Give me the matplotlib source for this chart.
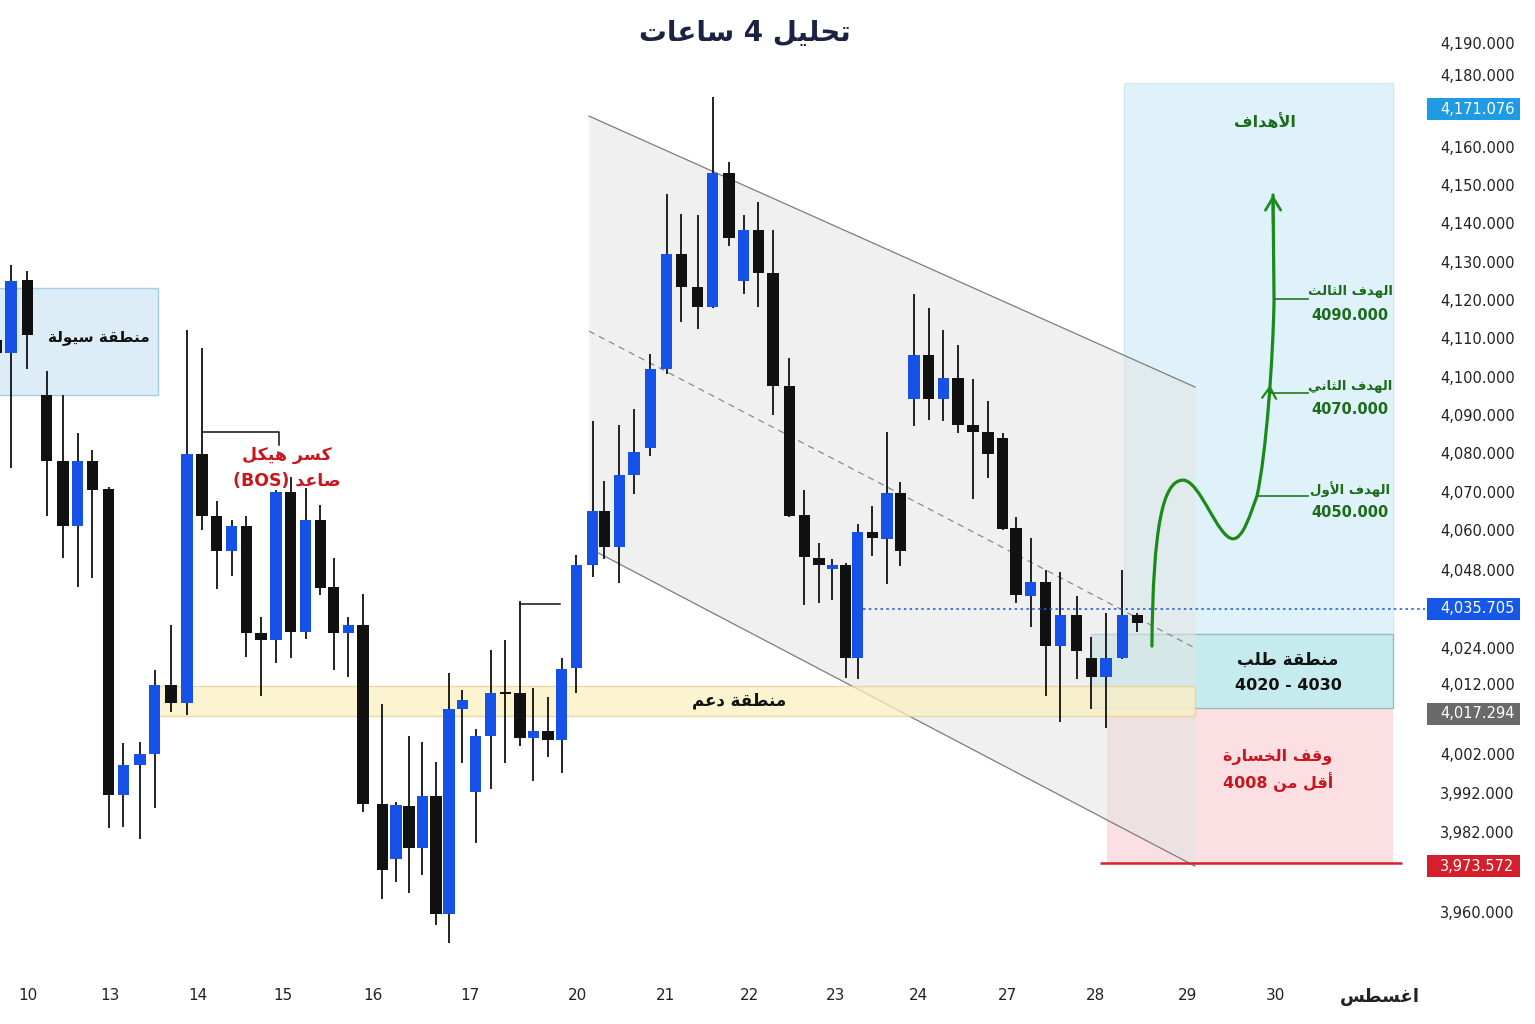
import matplotlib
matplotlib.use("Agg")
import matplotlib.pyplot as plt
from matplotlib.patches import Rectangle, PathPatch
from matplotlib.path import Path
from matplotlib.transforms import blended_transform_factory

plt.rcParams['font.family'] = ['DejaVu Sans']
AR_FONT = ['DejaVu Sans Condensed', 'DejaVu Sans']

# ---- candle data (4h candles, x = candle slot, prices) ----
candle_x = [-1.0, 0.0, 1.1, 2.4, 3.5, 4.5, 5.5, 6.6, 7.6, 8.7, 9.7, 10.8, 11.9, 12.9,
            13.9, 14.9, 15.9, 16.9, 17.9, 18.9, 19.9, 20.9, 21.8, 22.8, 23.8, 25.1,
            26.0, 26.9, 27.8, 28.7, 29.6, 30.5, 31.4, 32.4, 33.4, 34.4, 35.3, 36.3,
            37.2, 38.2, 39.3, 40.1, 41.1, 42.1, 43.2, 44.3, 45.3, 46.4, 47.4, 48.5,
            49.5, 50.5, 51.5, 52.6, 53.6, 54.6, 55.5, 56.4, 57.2, 58.2, 59.2, 60.1,
            61.0, 62.0, 63.0, 64.0, 65.0, 66.0, 67.0, 67.9, 68.9, 69.9, 70.9, 72.0,
            73.0, 74.0, 75.1, 76.1]
opens = [4109.6, 4106.1, 4125.1, 4095.3, 4078.1, 4061.0, 4078.1, 4070.6, 3990.8, 3998.8,
         4001.5, 4019.6, 4014.9, 4079.8, 4063.7, 4054.5, 4061.0, 4033.1, 4031.3, 4069.9,
         4033.4, 4062.6, 4045.1, 4033.1, 4035.2, 3988.5, 3974.2, 3988.0, 3977.0, 3990.6,
         3959.8, 4013.3, 3991.7, 4006.3, 4017.7, 4017.5, 4005.7, 4007.6, 4005.2, 4024.0,
         4050.9, 4065.0, 4055.6, 4074.4, 4081.4, 4102.0, 4132.0, 4123.4, 4118.2, 4153.1,
         4125.0, 4138.3, 4127.1, 4097.6, 4063.9, 4052.7, 4049.8, 4050.9, 4026.6, 4059.5,
         4057.7, 4069.7, 4094.2, 4105.7, 4094.2, 4099.7, 4087.4, 4085.6, 4084.0, 4060.5,
         4042.8, 4046.4, 4029.7, 4037.8, 4026.6, 4021.7, 4026.6, 4037.8]
highs = [4110.9, 4129.1, 4127.6, 4101.6, 4095.1, 4085.3, 4080.9, 4071.1, 4004.3, 4004.7,
         4023.5, 4035.2, 4112.2, 4107.5, 4067.6, 4062.6, 4063.7, 4037.3, 4070.4, 4073.8,
         4071.0, 4066.5, 4052.7, 4037.3, 4043.3, 4014.6, 3989.0, 4006.3, 4004.7, 3999.5,
         4022.7, 4018.3, 4008.1, 4028.7, 4031.3, 4041.5, 4018.8, 4016.4, 4026.6, 4053.5,
         4088.4, 4072.8, 4087.4, 4091.6, 4105.9, 4147.7, 4142.4, 4142.2, 4173.0, 4156.0,
         4142.2, 4145.6, 4138.3, 4104.9, 4070.4, 4056.6, 4052.4, 4051.4, 4061.6, 4066.3,
         4085.6, 4072.5, 4121.6, 4117.9, 4112.2, 4108.3, 4099.4, 4093.7, 4085.3, 4063.4,
         4057.9, 4049.6, 4049.0, 4042.8, 4032.1, 4038.3, 4049.6, 4038.3]
lows = [4104.9, 4076.2, 4102.1, 4063.7, 4052.7, 4045.2, 4047.4, 3982.3, 3982.5, 3979.3,
        3987.5, 4012.5, 4011.7, 4060.0, 4044.6, 4048.0, 4026.9, 4016.7, 4025.3, 4026.6,
        4031.6, 4043.0, 4023.5, 4021.7, 3986.4, 3963.7, 3968.2, 3965.3, 3970.0, 3957.0,
        3952.3, 3999.2, 3978.3, 3992.4, 3999.2, 4003.7, 3994.5, 4000.8, 3996.6, 4017.5,
        4047.7, 4052.4, 4046.2, 4069.4, 4079.3, 4100.7, 4114.3, 4112.4, 4117.9, 4134.1,
        4121.6, 4118.2, 4090.0, 4063.4, 4040.4, 4041.0, 4041.7, 4021.4, 4021.1, 4053.2,
        4045.9, 4050.6, 4087.1, 4088.7, 4088.4, 4085.3, 4068.1, 4073.6, 4060.0, 4041.0,
        4034.7, 4016.7, 4009.9, 4021.1, 4013.3, 4008.3, 4026.3, 4033.4]
closes = [4106.2, 4124.9, 4110.9, 4078.1, 4061.0, 4078.1, 4070.4, 3990.8, 3998.8, 4001.5,
          4019.5, 4014.9, 4079.8, 4063.7, 4054.5, 4061.0, 4033.1, 4031.3, 4069.9, 4033.4,
          4062.6, 4044.9, 4033.1, 4035.2, 3988.5, 3971.3, 3988.3, 3977.0, 3990.6, 3959.8,
          4013.3, 4015.7, 4006.3, 4017.5, 4017.2, 4005.7, 4007.6, 4005.2, 4023.7, 4050.9,
          4065.0, 4055.6, 4074.4, 4080.4, 4102.0, 4132.0, 4123.4, 4118.2, 4153.1, 4136.2,
          4138.3, 4127.1, 4097.6, 4063.7, 4053.0, 4050.9, 4050.9, 4026.6, 4059.5, 4057.9,
          4069.7, 4054.5, 4105.7, 4094.2, 4099.7, 4087.4, 4085.6, 4079.8, 4060.3, 4043.0,
          4046.4, 4029.7, 4037.8, 4028.4, 4021.7, 4026.6, 4037.8, 4035.7]

# ---- axis labels ----
xtick_pos = [1.15, 6.69, 12.64, 18.38, 24.46, 31.01, 38.31, 44.19, 49.93, 55.68,
             61.35, 67.36, 73.31, 79.53, 85.41, 92.5]
xtick_labels = ['10', '13', '14', '15', '16', '17', '20', '21', '22', '23', '24',
                '27', '28', '29', '30', 'اغسطس']
ytick_pos = [4187.1, 4178.7, 4160, 4150, 4140, 4130, 4120, 4110, 4100, 4090, 4080,
             4070, 4060, 4049.6, 4029.2, 4019.8, 4001.6, 3991.4, 3981.2, 3960.3]
ytick_labels = ['4,190.000', '4,180.000', '4,160.000', '4,150.000', '4,140.000',
                '4,130.000', '4,120.000', '4,110.000', '4,100.000', '4,090.000',
                '4,080.000', '4,070.000', '4,060.000', '4,048.000', '4,024.000',
                '4,012.000', '4,002.000', '3,992.000', '3,982.000', '3,960.000']
marker_levels = [4169.8, 4039.4, 4012.0, 3972.3]
marker_texts = ['4,171.076', '4,035.705', '4,017.294', '3,973.572']
marker_colors = ['#1f9be3', '#1557e9', '#6a6a6a', '#d61f2d']

# ---- zones and drawings (x in candle slots, y in price) ----
liquidity_zone = (-2.0, 9.93, 4095.2, 4123.1)
support_zone = (9.53, 80.0, 4011.5, 4019.3)
targets_zone = (75.2, 93.38, 4032.9, 4176.6)
demand_zone = (72.97, 93.38, 4013.6, 4032.9)
stop_zone = (74.05, 93.38, 3973.1, 4013.6)
stop_level = 3973.1
current_level = 4039.4
channel_x = [39.05, 80.0]
channel_top = [4168.0, 4097.3]
channel_bottom = [4055.3, 3972.3]
channel_mid = [4111.9, 4029.2]
bos_level = 4085.6
bos_x = [12.97, 18.11]
bos_drop = 4082.2
bos2_level = 4040.7
bos2_x = [34.39, 37.09]
# projected path: start, then cubic bezier triples, last point is the tip
path_pts = [(77.09, 4029.7),
            (77.16, 4061.0), (77.84, 4073.0), (79.19, 4073.0),
            (80.34, 4073.0), (81.55, 4057.7), (82.57, 4057.7),
            (83.24, 4057.7), (83.72, 4063.9), (84.19, 4068.9),
            (84.80, 4079.6), (85.27, 4104.3), (85.34, 4120.0),
            (85.27, 4147.4)]
target_levels = [4068.9, 4095.7, 4120.3]
target_start = [84.19, 85.07, 85.34]
target_end = 87.64
target_names = ['الهدف الأول', 'الهدف الثاني', 'الهدف الثالث']
target_values = ['4050.000', '4070.000', '4090.000']

# ---- arabic shaping (matplotlib has no text shaping) ----
DUAL = {0x0628: 0xFE8F, 0x062A: 0xFE95, 0x062B: 0xFE99, 0x062C: 0xFE9D, 0x062D: 0xFEA1,
        0x062E: 0xFEA5, 0x0633: 0xFEB1, 0x0634: 0xFEB5, 0x0635: 0xFEB9, 0x0636: 0xFEBD,
        0x0637: 0xFEC1, 0x0638: 0xFEC5, 0x0639: 0xFEC9, 0x063A: 0xFECD, 0x0641: 0xFED1,
        0x0642: 0xFED5, 0x0643: 0xFED9, 0x0644: 0xFEDD, 0x0645: 0xFEE1, 0x0646: 0xFEE5,
        0x0647: 0xFEE9, 0x064A: 0xFEF1}
RIGHT = {0x0622: 0xFE81, 0x0623: 0xFE83, 0x0625: 0xFE87, 0x0627: 0xFE8D, 0x0629: 0xFE93,
         0x062F: 0xFEA9, 0x0630: 0xFEAB, 0x0631: 0xFEAD, 0x0632: 0xFEAF, 0x0648: 0xFEED,
         0x0649: 0xFEEF}
LAM_ALEF = {0x0622: 0xFEF5, 0x0623: 0xFEF7, 0x0625: 0xFEF9, 0x0627: 0xFEFB}


def is_arabic(s):
    return any('\u0600' <= ch <= '\u06FF' for ch in s)


def shape_word(word):
    units = []
    i = 0
    while i < len(word):
        c = ord(word[i])
        if c == 0x0644 and i + 1 < len(word) and ord(word[i + 1]) in LAM_ALEF:
            units.append(('lig', LAM_ALEF[ord(word[i + 1])]))
            i += 2
            continue
        if c in DUAL:
            units.append(('dual', DUAL[c]))
        elif c in RIGHT:
            units.append(('right', RIGHT[c]))
        else:
            units.append(('other', c))
        i += 1
    out = []
    for k, (kind, base) in enumerate(units):
        prev_j = k > 0 and units[k - 1][0] == 'dual'
        next_j = kind == 'dual' and k + 1 < len(units) and units[k + 1][0] != 'other'
        if kind == 'other':
            out.append(chr(base))
        elif kind in ('right', 'lig'):
            out.append(chr(base + (1 if prev_j else 0)))
        else:
            off = 3 if (prev_j and next_j) else 1 if prev_j else 2 if next_j else 0
            out.append(chr(base + off))
    return ''.join(out)


def ar(text):
    if not is_arabic(text):
        return text
    words = []
    for w in reversed(text.split(' ')):
        words.append(shape_word(w)[::-1] if is_arabic(w) else w)
    return ' '.join(words)


# ---- figure ----
W, H = 1535, 1024
fig = plt.figure(figsize=(W / 100, H / 100), dpi=100)
ax = fig.add_axes([0, 1 - 975 / H, 1425 / W, 975 / H])
ax.set_xlim(-0.743, 95.54)
ax.set_ylim(3943.9, 4198.27)
for s in ax.spines.values():
    s.set_visible(False)


def zone(z, fc, ec, zorder, alpha=1.0, lw=1.0):
    x0, x1, y0, y1 = z
    ax.add_patch(Rectangle((x0, y0), x1 - x0, y1 - y0, facecolor=fc, edgecolor=ec,
                           lw=lw, alpha=alpha, zorder=zorder))


def label(x, y, s, size, color, family=AR_FONT):
    ax.text(x, y, ar(s), ha='center', va='center', fontsize=size, fontweight='bold',
            color=color, family=family, zorder=6)


zone(targets_zone, '#dff2fa', '#d2e9f3', 0.5)
zone(stop_zone, '#fbdfe2', 'none', 0.6)
zone(demand_zone, '#c6ebee', '#93bcbe', 0.7)
zone(liquidity_zone, '#dcedf8', '#a6cde4', 0.8)

# channel
ax.fill_between(channel_x, channel_bottom, channel_top, color='#e4e4e4', alpha=0.55,
                lw=0, zorder=1)
ax.plot(channel_x, channel_top, color='#7d7d7d', lw=0.9, zorder=1.2)
ax.plot(channel_x, channel_bottom, color='#7d7d7d', lw=0.9, zorder=1.2)
ax.plot(channel_x, channel_mid, color='#8a8a8a', lw=0.9, ls=(0, (5, 4)), zorder=1.2)

zone(support_zone, '#fbefc2', '#e2d08e', 1.5, alpha=0.75)

# candles
for x, o, h, l, c in zip(candle_x, opens, highs, lows, closes):
    col = '#1652e8' if c >= o else '#111111'
    ax.vlines(x, l, h, color='#111111', lw=1.3, zorder=3)
    ax.bar(x, max(abs(c - o), 0.5), width=0.78, bottom=min(o, c), color=col,
           edgecolor='none', zorder=3.5)

# current price dotted line and stop line
ax.hlines(current_level, 57.57, 95.54, color='#2b5fd9', lw=1.2, ls=(0, (1.5, 2)), zorder=4)
ax.hlines(stop_level, 73.58, 93.99, color='#d81e2e', lw=1.8, zorder=4)

# BOS brackets
ax.plot([bos_x[0], bos_x[1], bos_x[1]], [bos_level, bos_level, bos_drop],
        color='#111111', lw=1.1, zorder=4)
ax.plot(bos2_x, [bos2_level, bos2_level], color='#111111', lw=1.1, zorder=4)

# projected path
green = '#1a8a1a'
codes = [Path.MOVETO] + [Path.CURVE4] * 12 + [Path.LINETO]
ax.add_patch(PathPatch(Path(path_pts, codes), facecolor='none', edgecolor=green,
                       lw=2.3, zorder=5, capstyle='round'))
ax.annotate('', xy=path_pts[-1], xytext=(85.28, 4140.0),
            arrowprops=dict(arrowstyle='->,head_length=0.9,head_width=0.55', color=green,
                            lw=2.0, shrinkA=0, shrinkB=0), zorder=5)
ax.annotate('', xy=(85.07, 4097.8), xytext=(84.98, 4093.0),
            arrowprops=dict(arrowstyle='->,head_length=0.8,head_width=0.5', color=green,
                            lw=1.6, shrinkA=0, shrinkB=0), zorder=5)
for lv, x0 in zip(target_levels, target_start):
    ax.plot([x0, target_end], [lv, lv], color='#1f7a1f', lw=1.2, zorder=5)

# ---- texts ----
txt_green = '#1b6b1b'
txt_red = '#c8161e'
label(5.95, 4110.1, 'منطقة سيولة', 11, '#111111')
label(18.65, 4079.6, 'كسر هيكل', 12.5, txt_red)
label(18.65, 4072.8, 'صاعد (BOS)', 12.5, txt_red)
label(49.19, 4015.6, 'منطقة دعم', 12, '#111111')
label(84.73, 4166.4, 'الأهداف', 11.5, txt_green)
for lv, name, val in zip(target_levels, target_names, target_values):
    label(90.47, lv + 1.8, name, 9.5, txt_green)
    label(90.47, lv - 4.3, val, 10.5, txt_green, family='DejaVu Sans')
label(86.28, 4026.1, 'منطقة طلب', 12, '#111111')
label(86.28, 4019.3, '4020 - 4030', 11.5, '#111111', family='DejaVu Sans')
label(85.61, 4000.8, 'وقف الخسارة', 11.5, txt_red)
label(85.61, 3994.2, 'أقل من 4008', 11.5, txt_red)

fig.text(745 / W, 1 - 33 / H, ar('تحليل 4 ساعات'), ha='center', va='center',
         fontsize=20, fontweight='bold', color='#1b2242', family=AR_FONT)

# ---- axes ----
ax.set_xticks(xtick_pos, [ar(t) for t in xtick_labels])
ax.tick_params(axis='x', length=0, pad=9, labelsize=11, labelcolor='#222222')
xl = ax.get_xticklabels()
xl[-1].set_fontweight('bold')
xl[-1].set_fontsize(13)
xl[-1].set_family(AR_FONT)
ax.yaxis.tick_right()
ax.set_yticks(ytick_pos, ytick_labels)
ax.tick_params(axis='y', length=0, pad=11, labelsize=10.5, labelcolor='#222222')

tr = blended_transform_factory(ax.transAxes, ax.transData)
box_h = 22 / 3.833
for lv, t, c in zip(marker_levels, marker_texts, marker_colors):
    ax.add_patch(Rectangle((1427 / 1425, lv - box_h / 2), 93 / 1425, box_h, transform=tr,
                           facecolor=c, edgecolor='none', clip_on=False, zorder=6))
    ax.text(1440 / 1425, lv, t, transform=tr, ha='left', va='center', fontsize=10.5,
            color='white', clip_on=False, zorder=7)

fig.savefig('out.png', dpi=100)
